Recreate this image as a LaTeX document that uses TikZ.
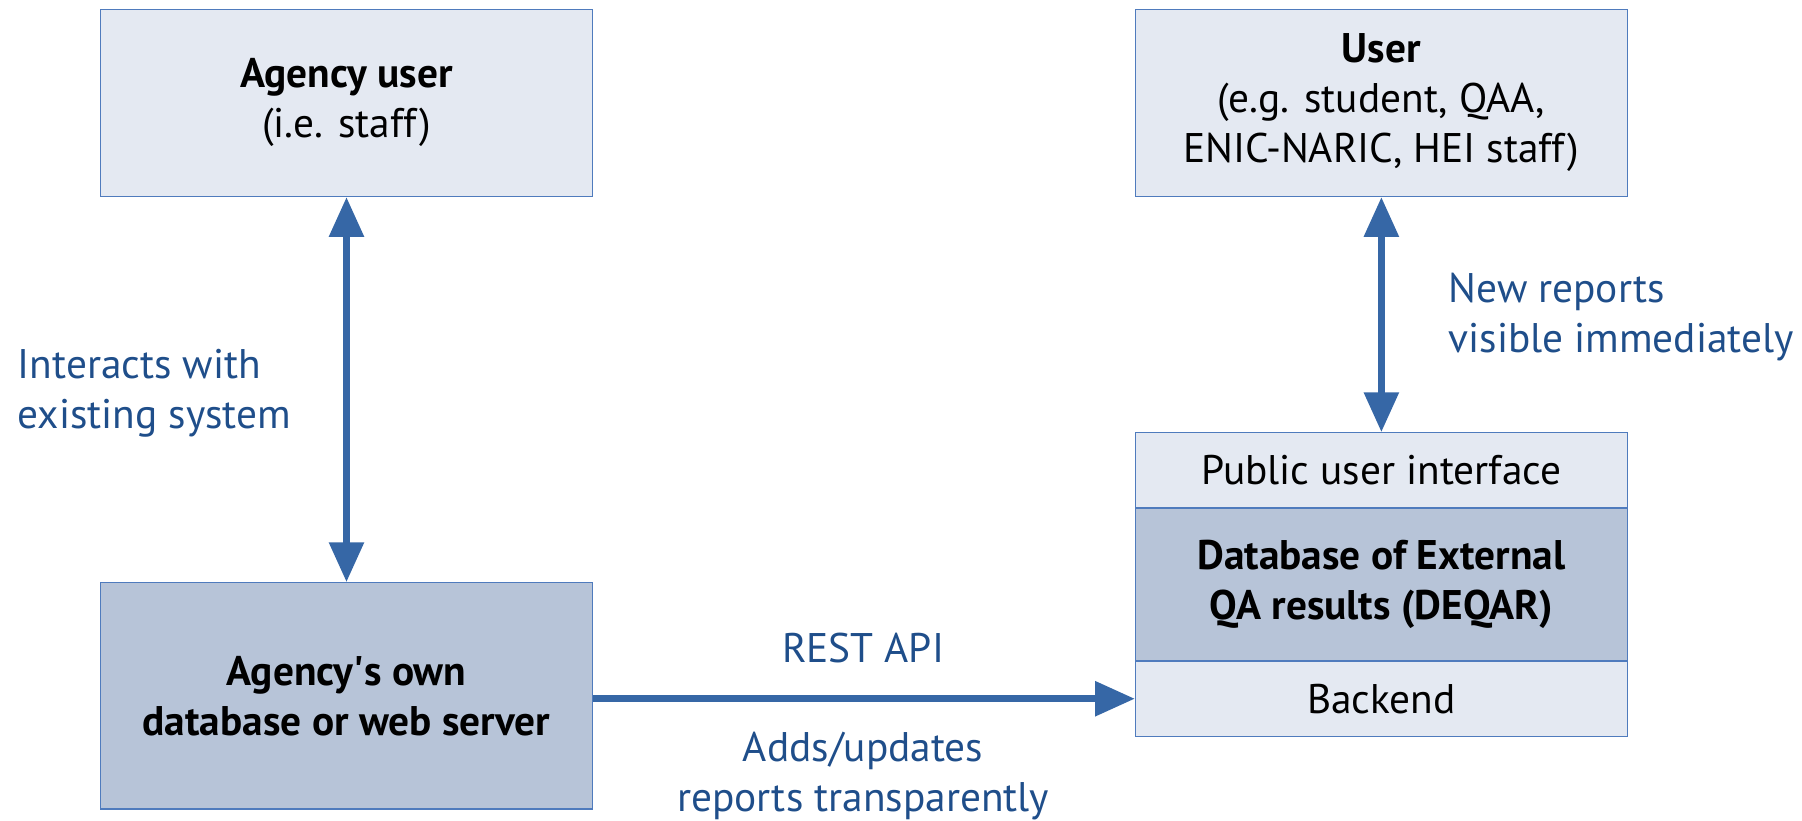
\documentclass[tikz,border=0pt]{standalone}
\usepackage{fontspec}
\setmainfont{PT Sans}
\newfontfamily\straightfont{PT Sans}
\usetikzlibrary{positioning,arrows.meta}

\definecolor{boxlight}{HTML}{E4E9F2}
\definecolor{boxdark}{HTML}{B7C4D8}
\definecolor{boxline}{HTML}{4F7BBD}
\definecolor{arrowblue}{HTML}{3667A6}
\definecolor{labelblue}{HTML}{1F4E8A}

\tikzset{every picture/.style={line width=0.75pt}}
\tikzset{
  lightbox/.style={draw=boxline, fill=boxlight, minimum width=321pt, inner sep=0pt, align=center, font=\fontsize{27}{32.5}\selectfont},
  darkbox/.style={lightbox, fill=boxdark},
  flowlabel/.style={text=labelblue, inner sep=0pt, font=\fontsize{27}{32.5}\selectfont},
  flowarrow/.style={draw=arrowblue, line width=4.5pt, -{Triangle[length=26pt,width=22pt]}},
  botharrow/.style={flowarrow, {Triangle[length=26pt,width=22pt]}-{Triangle[length=26pt,width=22pt]}}
}

\begin{document}
\begin{tikzpicture}[x=0.75pt,y=0.75pt,yscale=-1,xscale=1]
\useasboundingbox (0,0) rectangle (1568,714);

%Shape: Rectangle [agency user]
\node [lightbox, minimum height=122.25pt] (agencyuser) at (301.5,89.5) {\textbf{Agency user}\\(i.e. staff)};
%Shape: Rectangle [user]
\node [lightbox, minimum height=122.25pt] (user) at (1202,89.5) {\textbf{User}\\(e.g. student, QAA,\\ENIC-NARIC, HEI staff)};
%Shape: Rectangle [agency database]
\node [darkbox, minimum height=147.75pt] (agencydb) at (301.5,605.5) {\textbf{Agency{\straightfont'}s own}\\\textbf{database or web server}};

%Shape: Rectangle [deqar stack]
\node [lightbox, minimum height=48.75pt, anchor=north] (publicui) at (1202,376) {Public user interface};
\node [darkbox, minimum height=99pt, below=0pt of publicui] (deqar) {\textbf{Database of External}\\\textbf{QA results (DEQAR)}};
\node [lightbox, minimum height=48.75pt, below=0pt of deqar] (backend) {Backend};

%Straight Lines [arrows]
\draw [botharrow] (agencyuser.south) -- (agencydb.north) ;
\draw [botharrow] (user.south) -- (publicui.north) ;
\draw [flowarrow] (agencydb.east |- backend.west) -- (backend.west) ;

% Text Node
\node [flowlabel, anchor=west, align=left] (interacts) at (15,342) {Interacts with\\existing system};
% Text Node
\node [flowlabel, anchor=west, align=left] (newreports) at (1260,276) {New reports\\visible immediately};
% Text Node
\node [flowlabel] (restapi) at (751,564) {REST API};
% Text Node
\node [flowlabel, align=center] (adds) at (751,675.5) {Adds/updates\\reports transparently};

\end{tikzpicture}
\end{document}
